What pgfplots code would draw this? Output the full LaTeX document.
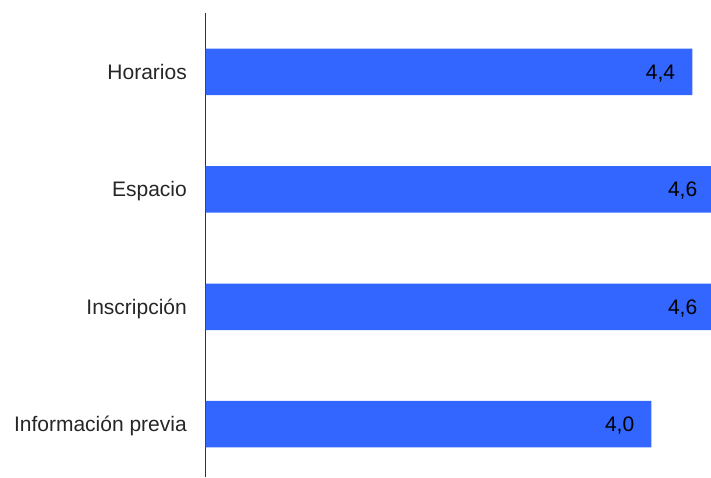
\documentclass[border=0pt]{standalone}
\usepackage{pgfplots}
\pgfplotsset{compat=1.18}
\usepackage{fontspec}
\setmainfont{Liberation Sans}
\definecolor{barblue}{HTML}{3366FF}

\begin{document}
\begin{tikzpicture}
\begin{axis}[
    at={(0,0)}, anchor=south west,
    scale only axis, width=519.8pt, height=464.3pt,
    xbar, bar width=46.5pt,
    xmin=0, xmax=4.7,
    ymin=-0.45, ymax=3.505,
    ytick={0,1,2,3},
    yticklabels={Información previa, Inscripción, Espacio, Horarios},
    xtick=\empty,
    major tick length=0pt,
    axis x line=none, axis y line=left,
    axis line style={-, draw=black!80, line width=0.8pt},
    yticklabel style={anchor=base east, inner sep=0pt, xshift=-18.7pt, yshift=-7.5pt,
        font=\fontsize{21}{25}\selectfont, text=black!85},
    nodes near coords={\pgfmathprintnumber[fixed,fixed zerofill,precision=1,use comma,assume math mode=true]{\pgfplotspointmeta}},
    nodes near coords style={anchor=base east, inner sep=0pt, xshift=-17pt, yshift=-7.5pt,
        font=\fontsize{21}{25}\selectfont, text=black},
]
\addplot[fill=barblue, draw=none] coordinates {(4.03,0) (4.6,1) (4.6,2) (4.4,3)};
\end{axis}
\pgfresetboundingbox
\path[use as bounding box] (-205.7pt,0) rectangle (505.3pt,477pt);
\end{tikzpicture}
\end{document}
